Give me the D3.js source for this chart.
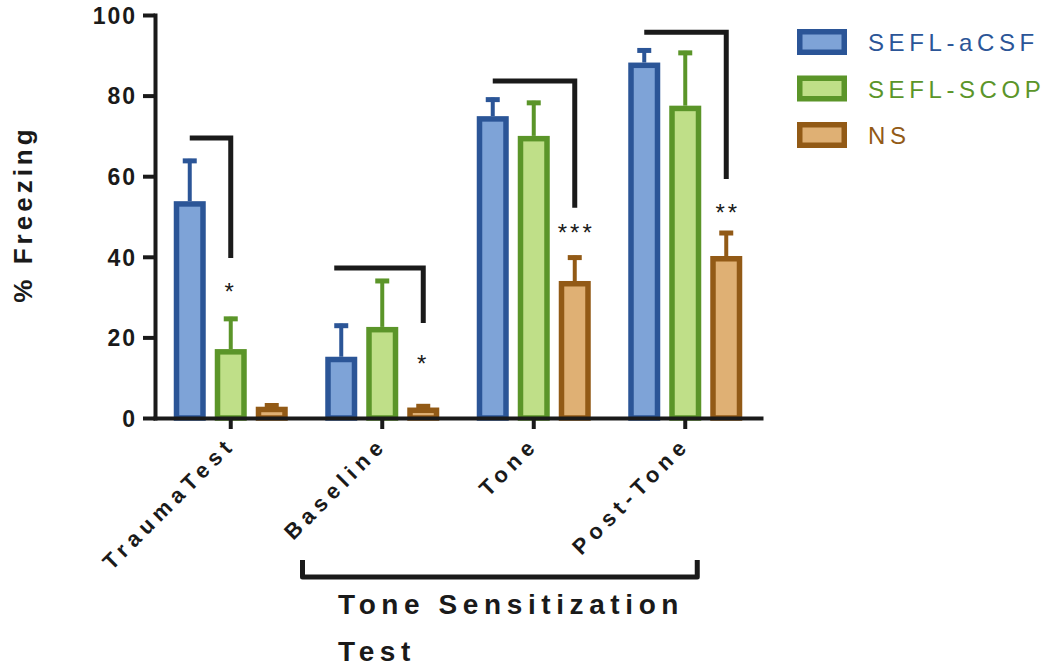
<!DOCTYPE html>
<html><head><meta charset="utf-8">
<script src="https://cdn.jsdelivr.net/npm/d3@7"></script>
<style>
html,body{margin:0;padding:0;background:#fff;}
svg{display:block;font-family:"Liberation Sans",Arial,sans-serif;}
</style></head>
<body><svg id="chart" width="1053" height="669"></svg>
<script>
const categories = ["TraumaTest","Baseline","Tone","Post-Tone"];
const seriesNames = ["SEFL-aCSF","SEFL-SCOP","NS"];
const meanACSF = [53.8, 15.2, 74.9, 88.2];
const semACSF  = [10.5, 8.2, 4.6, 3.5];
const meanSCOP = [17.1, 22.6, 70.0, 77.5];
const semSCOP  = [8.0, 11.9, 8.7, 13.6];
const meanNS   = [2.8, 2.6, 34.0, 40.2];
const semNS    = [0.8, 0.8, 6.3, 6.2];
const yTicks = [0, 20, 40, 60, 80, 100];
const bracketTop    = [69.5, 37.2, 83.6, 95.7];
const bracketBottom = [39.7, 23.6, 52.2, 59.3];
const bracketFrom   = ["SEFL-aCSF","SEFL-aCSF","SEFL-aCSF","SEFL-aCSF"];
const bracketTo     = ["SEFL-SCOP","NS","NS","NS"];
const starLabels    = ["*","*","***","**"];
const starY         = [32.3, 14.4, 46.9, 51.9];
const yTitle = "% Freezing";
const groupLabelLines = ["Tone Sensitization", "Test"];
const groupFrom = "Baseline", groupTo = "Post-Tone";

const strokeCol = {"SEFL-aCSF":"#2b5597","SEFL-SCOP":"#5b9529","NS":"#925a16"};
const fillCol   = {"SEFL-aCSF":"#7ea3d7","SEFL-SCOP":"#bfdf88","NS":"#dfb074"};
const means = {"SEFL-aCSF":meanACSF,"SEFL-SCOP":meanSCOP,"NS":meanNS};
const sems  = {"SEFL-aCSF":semACSF,"SEFL-SCOP":semSCOP,"NS":semNS};

const svg = d3.select("#chart");
const x0 = d3.scaleBand().domain(categories).range([155, 761]);
const bw0 = x0.bandwidth();
const x1 = d3.scaleBand().domain(seriesNames).range([bw0/2 - 57, bw0/2 + 57]).paddingInner(9/41).paddingOuter(0);
const y = d3.scaleLinear().domain([0,100]).range([418, 15]);
const sw = 5.5;
const ink = "#1a1a1a";

// bars
const rows = [];
categories.forEach((c,i)=>seriesNames.forEach(s=>rows.push({c,s,v:means[s][i],e:sems[s][i]})));
const barG = svg.append("g");
barG.selectAll("rect.bar").data(rows).join("rect")
  .attr("x", d=>x0(d.c)+x1(d.s)+sw/2)
  .attr("y", d=>y(d.v)+sw/2)
  .attr("width", x1.bandwidth()-sw)
  .attr("height", d=>Math.max(0, y(0)-y(d.v)-sw/2))
  .attr("fill", d=>fillCol[d.s])
  .attr("stroke", d=>strokeCol[d.s])
  .attr("stroke-width", sw);
// error bars
barG.selectAll("line.err").data(rows).join("line")
  .attr("x1", d=>x0(d.c)+x1(d.s)+x1.bandwidth()/2)
  .attr("x2", d=>x0(d.c)+x1(d.s)+x1.bandwidth()/2)
  .attr("y1", d=>y(d.v))
  .attr("y2", d=>y(d.v+d.e))
  .attr("stroke", d=>strokeCol[d.s]).attr("stroke-width", 4);
barG.selectAll("line.cap").data(rows).join("line")
  .attr("x1", d=>x0(d.c)+x1(d.s)+x1.bandwidth()/2-7)
  .attr("x2", d=>x0(d.c)+x1(d.s)+x1.bandwidth()/2+7)
  .attr("y1", d=>y(d.v+d.e)+2)
  .attr("y2", d=>y(d.v+d.e)+2)
  .attr("stroke", d=>strokeCol[d.s]).attr("stroke-width", 5);

// y axis
const yAxis = svg.append("g").attr("transform","translate(155,0)")
  .call(d3.axisLeft(y).tickValues(yTicks).tickSize(12).tickSizeOuter(0).tickPadding(6));
yAxis.select(".domain").attr("stroke", ink).attr("stroke-width", 4).attr("stroke-linecap","square");
yAxis.selectAll(".tick line").attr("stroke", ink).attr("stroke-width", 4);
yAxis.selectAll(".tick text").attr("fill", ink).style("font-size","23px").style("font-weight","bold")
  .style("letter-spacing","2px").attr("dy","0.36em");

// x axis
const xAxis = svg.append("g").attr("transform","translate(0,418)")
  .call(d3.axisBottom(x0).tickSize(11).tickSizeOuter(0).tickFormat(""));
xAxis.select(".domain").attr("stroke", ink).attr("stroke-width", 4).attr("stroke-linecap","square");
xAxis.selectAll(".tick line").attr("stroke", ink).attr("stroke-width", 4);

// x labels rotated
svg.append("g").selectAll("text").data(categories).join("text")
  .attr("transform", d=>`translate(${x0(d)+bw0/2+6},${446}) rotate(-45)`)
  .attr("text-anchor","end")
  .attr("fill", ink).style("font-size","22px").style("font-weight","bold").style("letter-spacing","5.5px")
  .text(d=>d);

// y title
svg.append("text").attr("transform","translate(32,214) rotate(-90)")
  .attr("text-anchor","middle").attr("fill", ink)
  .style("font-size","26px").style("font-weight","bold").style("letter-spacing","4px")
  .text(yTitle);

// significance brackets
const bG = svg.append("g");
categories.forEach((c,i)=>{
  const xl = x0(c)+x1(bracketFrom[i])+x1.bandwidth()/2 - (i===1 ? 7 : 0);
  const xr = x0(c)+x1(bracketTo[i])+x1.bandwidth()/2;
  bG.append("path")
    .attr("d", `M${xl},${y(bracketTop[i])}H${xr}V${y(bracketBottom[i])}`)
    .attr("fill","none").attr("stroke", ink).attr("stroke-width", 5);
  bG.append("text")
    .attr("x", xr).attr("y", y(starY[i])+12)
    .attr("text-anchor","middle").attr("fill", ink)
    .style("font-size","24px").style("letter-spacing","3px")
    .attr("dx", starLabels[i].length>1 ? "1.5px" : "0")
    .text(starLabels[i]);
});

// group bracket under axis
const gxl = x0(groupFrom)-4, gxr = x0(groupTo)+bw0/2+12;
svg.append("path")
  .attr("d", `M${gxl},560V577H${gxr}V560`)
  .attr("fill","none").attr("stroke", ink).attr("stroke-width", 5).attr("stroke-linejoin","round");
svg.append("text").attr("x", 338).attr("y", 614).attr("fill", ink)
  .style("font-size","28px").style("font-weight","bold").style("letter-spacing","5.6px")
  .selectAll("tspan").data(groupLabelLines).join("tspan")
  .attr("x", 338).attr("dy",(d,i)=>i===0?0:47).text(d=>d);

// legend
const lg = svg.append("g").attr("transform","translate(797,29)");
const li = lg.selectAll("g").data(seriesNames).join("g").attr("transform",(d,i)=>`translate(0,${i*46.5})`);
li.append("rect").attr("x", sw/2).attr("y", sw/2).attr("width", 50-sw).attr("height", 26-sw)
  .attr("fill", d=>fillCol[d]).attr("stroke", d=>strokeCol[d]).attr("stroke-width", sw);
li.append("text").attr("x", 71).attr("y", 22).attr("fill", d=>strokeCol[d])
  .style("font-size","24px").style("letter-spacing","4.6px").text(d=>d);
</script></body></html>
